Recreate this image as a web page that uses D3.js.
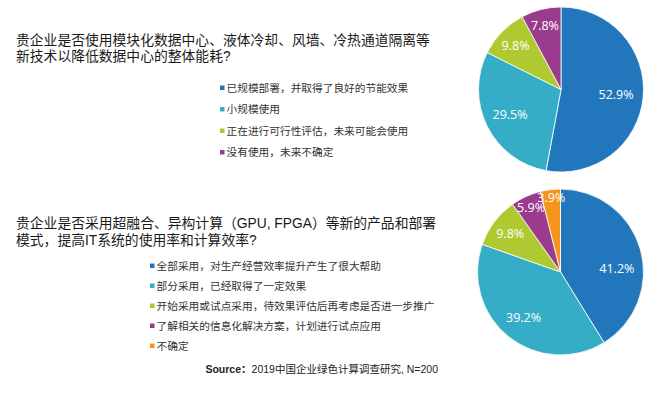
<!DOCTYPE html>
<html><head><meta charset="utf-8">
<script src="https://cdn.jsdelivr.net/npm/d3@7"></script>
<style>
html,body{margin:0;padding:0;background:#fff;}
svg{display:block;}
</style></head>
<body>
<svg id="chart" width="670" height="396"></svg>
<script>
// ---- data ----
const title1 = ["贵企业是否使用模块化数据中心、液体冷却、风墙、冷热通道隔离等", "新技术以降低数据中心的整体能耗?"];
const categories1 = ["已规模部署，并取得了良好的节能效果", "小规模使用", "正在进行可行性评估，未来可能会使用", "没有使用，未来不确定"];
const values1 = [52.9, 29.5, 9.8, 7.8];

const title2 = ["贵企业是否采用超融合、异构计算（GPU, FPGA）等新的产品和部署", "模式，提高IT系统的使用率和计算效率?"];
const categories2 = ["全部采用，对生产经营效率提升产生了很大帮助", "部分采用，已经取得了一定效果", "开始采用或试点采用，待效果评估后再考虑是否进一步推广", "了解相关的信息化解决方案，计划进行试点应用", "不确定"];
const values2 = [41.2, 39.2, 9.8, 5.9, 3.9];

const sourceLabel = "Source：";
const sourceText = "2019中国企业绿色计算调查研究, N=200";

// ---- layout / style ----
const colors = ["#2277bc", "#36adc7", "#afca31", "#9b3b8d", "#f7941e"];
const cjk = "'Liberation Sans','Noto Sans CJK SC','Noto Sans',sans-serif";
const labelFont = "'Open Sans','Noto Sans',sans-serif";
// label radius (fraction of pie radius) per slice, like Excel best-fit
const labelR1 = [0.67, 0.69, 0.77, 0.80];
const labelR2 = [0.68, 0.71, 0.76, 0.85, 0.91];
const labelAngleNudge2 = [0.22, 0, 0, 0, 0];

const svg = d3.select("#chart");

function drawTitle(lines, x, y0, lh) {
  const t = svg.append("text").attr("x", x).attr("y", y0)
    .attr("font-family", cjk).attr("font-size", 13.8).attr("fill", "#1a1a1a");
  lines.forEach((l, i) => t.append("tspan").attr("x", x).attr("y", y0 + i * lh).text(l));
}

function drawLegend(cats, x, y0, step) {
  const g = svg.append("g");
  const rows = g.selectAll("g").data(cats).join("g")
    .attr("transform", (d, i) => `translate(${x},${y0 + i * step})`);
  rows.append("rect").attr("x", 0).attr("y", -2.5).attr("width", 4.5).attr("height", 4.5)
    .attr("fill", (d, i) => colors[i]);
  rows.append("text").attr("x", 6.5).attr("y", 0).attr("dy", "0.36em")
    .attr("font-family", cjk).attr("font-size", 10.7).attr("fill", "#333")
    .text(d => d);
}

function drawPie(values, cx, cy, r, labelR, nudge) {
  const pie = d3.pie().sort(null).value(d => d);
  const arc = d3.arc().innerRadius(0).outerRadius(r);
  const g = svg.append("g").attr("transform", `translate(${cx},${cy})`);
  const arcs = pie(values);
  g.selectAll("path").data(arcs).join("path")
    .attr("d", arc).attr("fill", (d, i) => colors[i])
    .attr("stroke", "#fff").attr("stroke-width", 0.8);
  g.selectAll("text").data(arcs).join("text")
    .attr("transform", (d, i) => {
      const a = (d.startAngle + d.endAngle) / 2 + (nudge ? nudge[i] : 0);
      const rr = r * labelR[i];
      return `translate(${Math.sin(a) * rr},${-Math.cos(a) * rr})`;
    })
    .attr("text-anchor", "middle").attr("dy", "0.36em")
    .attr("font-family", labelFont).attr("font-size", 12.5).attr("fill", "#fff")
    .text(d => d3.format(".1f")(d.data) + "%");
}

drawTitle(title1, 16, 45, 16);
drawLegend(categories1, 220, 88, 21.5);
drawPie(values1, 561, 89.5, 82.5, labelR1);

drawTitle(title2, 16, 228, 17);
drawLegend(categories2, 150, 266, 20);
drawPie(values2, 560.5, 272, 83, labelR2, labelAngleNudge2);

const src = svg.append("text").attr("x", 438).attr("y", 369).attr("dy", "0.36em")
  .attr("text-anchor", "end").attr("font-family", cjk).attr("font-size", 10.5).attr("fill", "#222");
src.append("tspan").attr("font-weight", "bold").text(sourceLabel);
src.append("tspan").text(sourceText);
</script>
</body></html>
